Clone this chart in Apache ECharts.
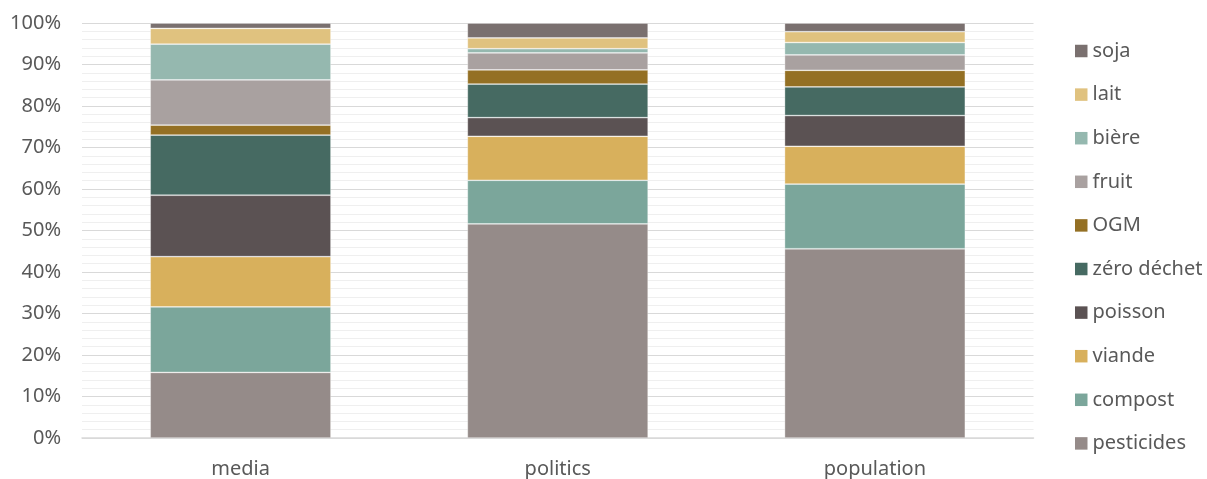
<!DOCTYPE html>
<html>
<head>
<meta charset="utf-8">
<script src="https://cdn.jsdelivr.net/npm/echarts@6/dist/echarts.min.js"></script>
<style>
html,body{margin:0;padding:0;background:#fff;}
#chart{width:1207px;height:479px;}
</style>
</head>
<body>
<div id="chart"></div>
<script>
const categories = ['media', 'politics', 'population'];
const yTicks = [0, 10, 20, 30, 40, 50, 60, 70, 80, 90, 100];

const pesticides = [15.8, 51.6, 45.6];
const compost    = [15.8, 10.5, 15.6];
const viande     = [12.1, 10.6, 9.1];
const poisson    = [14.8, 4.5, 7.4];
const zeroDechet = [14.5, 8.1, 6.9];
const ogm        = [2.4, 3.4, 4.0];
const fruit      = [10.9, 4.1, 3.7];
const biere      = [8.6, 1.0, 3.0];
const lait       = [3.8, 2.6, 2.6];
const soja       = [1.3, 3.6, 2.1];

const seriesDefs = [
  ['pesticides', pesticides, '#958b89'],
  ['compost', compost, '#7ba69b'],
  ['viande', viande, '#d8b05c'],
  ['poisson', poisson, '#5b5253'],
  ['zéro déchet', zeroDechet, '#466a62'],
  ['OGM', ogm, '#947024'],
  ['fruit', fruit, '#a9a1a0'],
  ['bière', biere, '#95b8af'],
  ['lait', lait, '#e0c27f'],
  ['soja', soja, '#7a706f']
];

const FONT = 'Noto Sans';
const chart = echarts.init(document.getElementById('chart'), null, {renderer: 'canvas'});
chart.setOption({
  animation: false,
  backgroundColor: '#ffffff',
  grid: {left: 82, right: 173.5, top: 23, bottom: 39, containLabel: false},
  legend: {
    orient: 'vertical',
    left: 1075,
    top: 41,
    padding: 0,
    icon: 'rect',
    itemWidth: 12.5,
    itemHeight: 12.5,
    itemGap: 23.6,
    data: seriesDefs.map(s => s[0]).reverse(),
    itemStyle: {borderWidth: 0, borderColor: 'transparent'},
    textStyle: {fontFamily: FONT, fontSize: 20, color: '#595959', lineHeight: 20, padding: [0, 0, 0, 0]},
    itemTextGap: 5
  },
  xAxis: {
    type: 'category',
    data: categories,
    axisLine: {show: true, lineStyle: {color: '#d9d9d9', width: 1.5}},
    axisTick: {show: false},
    axisLabel: {fontFamily: FONT, fontSize: 20, color: '#595959', margin: 21}
  },
  yAxis: {
    type: 'value',
    min: yTicks[0],
    max: yTicks[yTicks.length - 1],
    interval: 10,
    axisLine: {show: false},
    axisTick: {show: false},
    axisLabel: {fontFamily: FONT, fontSize: 20, color: '#595959', margin: 21, formatter: '{value}%'},
    splitLine: {show: true, lineStyle: {color: '#d9d9d9', width: 1}},
    minorTick: {show: false, splitNumber: 5},
    minorSplitLine: {show: true, lineStyle: {color: '#efefef', width: 1}}
  },
  series: seriesDefs.map(([name, data, color]) => ({
    name: name,
    type: 'bar',
    stack: 'total',
    data: data,
    barWidth: '57%',
    itemStyle: {color: color, borderColor: 'rgba(255,255,255,0.45)', borderWidth: 0.75}
  }))
});
</script>
</body>
</html>
